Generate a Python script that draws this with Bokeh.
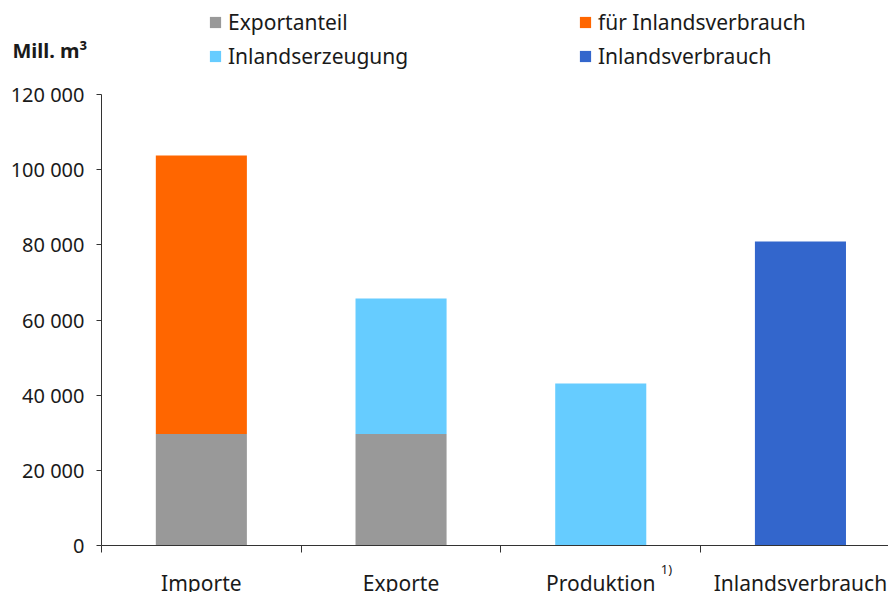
from bokeh.plotting import figure
from bokeh.models import (Range1d, FixedTicker, Label, Legend, LegendItem, LinearAxis)
from bokeh.embed import file_html
from bokeh.resources import INLINE

categories = ["Importe", "Exporte", "Produktion", "Inlandsverbrauch"]
exportanteil = [29700, 29700, 0, 0]
fuer_inlandsverbrauch = [74100, 0, 0, 0]
inlandserzeugung = [0, 36000, 43100, 0]
inlandsverbrauch = [0, 0, 0, 80900]
y_ticks = [0, 20000, 40000, 60000, 80000, 100000, 120000]
y_tick_labels = ["0", "20 000", "40 000", "60 000", "80 000", "100 000", "120 000"]
series_names = ["Exportanteil", "für Inlandsverbrauch", "Inlandserzeugung", "Inlandsverbrauch"]
colors = ["#999999", "#FF6600", "#66CCFF", "#3366CC"]
unit_label = "Mill. m³"
footnote = "1)"

FONT = "Noto Sans"
TXT = "#1a1a1a"
AX = "#333333"

# layout geometry (pixels)
W, H = 888, 592
PLOT_L, PLOT_T, PLOT_B = 101, 94, 545
CAT_W = 199.7
px_per_unit_y = (PLOT_B - PLOT_T) / y_ticks[-1]
x_start = -0.5 - PLOT_L / CAT_W
x_end = -0.5 + (W - PLOT_L) / CAT_W
y_start = -(H - PLOT_B) / px_per_unit_y
y_end = y_ticks[-1] + PLOT_T / px_per_unit_y

p = figure(width=W, height=H, output_backend="svg", toolbar_location=None,
           x_range=Range1d(x_start, x_end), y_range=Range1d(y_start, y_end),
           min_border=0)
p.outline_line_color = None
p.xgrid.visible = False
p.ygrid.visible = False
p.axis.visible = False

n = len(categories)
data = dict(x=list(range(n)), exp=exportanteil, fur=fuer_inlandsverbrauch,
            erz=inlandserzeugung, ver=inlandsverbrauch)
renderers = p.vbar_stack(["exp", "fur", "erz", "ver"], x="x", width=0.456, source=data,
                         color=colors, line_color=None)

# y axis
yax = LinearAxis(ticker=FixedTicker(ticks=y_ticks, minor_ticks=[]),
                 fixed_location=-0.5, bounds=(y_ticks[0], y_ticks[-1]))
yax.major_label_overrides = {t: l for t, l in zip(y_ticks, y_tick_labels)}
yax.major_label_text_font = FONT
yax.major_label_text_font_size = "20px"
yax.major_label_text_color = TXT
yax.major_tick_out = 5
yax.major_tick_in = 0
yax.major_label_standoff = 12
yax.axis_line_color = AX
yax.major_tick_line_color = AX
p.add_layout(yax, "left")

# x axis: labels at centres, ticks at category boundaries
bounds_x = [i - 0.5 for i in range(n + 1)]
xax = LinearAxis(ticker=FixedTicker(ticks=list(range(n)), minor_ticks=bounds_x),
                 fixed_location=0, bounds=(bounds_x[0], bounds_x[-1]))
xax.major_label_overrides = {i: c for i, c in enumerate(categories)}
xax.major_label_text_font = FONT
xax.major_label_text_font_size = "21px"
xax.major_label_text_color = TXT
xax.major_label_standoff = 16
xax.major_tick_out = 0
xax.major_tick_in = 0
xax.minor_tick_out = 7
xax.minor_tick_in = 0
xax.axis_line_color = AX
xax.minor_tick_line_color = AX
p.add_layout(xax, "below")

p.add_layout(Label(x=2, y=0, x_offset=60, y_offset=-14, text=footnote,
                   text_align="left", text_baseline="top", text_font=FONT,
                   text_font_size="13px", text_color=TXT))

p.add_layout(Label(x=12, y=H - 36, x_units="screen", y_units="screen", text=unit_label,
                   text_align="left", text_baseline="top", text_font=FONT,
                   text_font_size="20px", text_font_style="bold", text_color=TXT))

def make_legend(items, x, y):
    lg = Legend(items=items, location=(x, y), orientation="vertical")
    lg.padding = 0
    lg.margin = 0
    lg.spacing = 6
    lg.glyph_width = 14
    lg.glyph_height = 14
    lg.label_height = 20
    lg.label_standoff = 6
    lg.label_text_font = FONT
    lg.label_text_font_size = "21px"
    lg.label_text_color = TXT
    lg.border_line_color = None
    lg.background_fill_alpha = 0
    return lg

leg1 = make_legend([LegendItem(label=series_names[0], renderers=[renderers[0]]),
                    LegendItem(label=series_names[2], renderers=[renderers[2]])], 208, H - 70)
leg2 = make_legend([LegendItem(label=series_names[1], renderers=[renderers[1]]),
                    LegendItem(label=series_names[3], renderers=[renderers[3]])], 578, H - 70)
p.add_layout(leg1, "center")
p.add_layout(leg2, "center")

open("out.html", "w").write(file_html(p, INLINE))
